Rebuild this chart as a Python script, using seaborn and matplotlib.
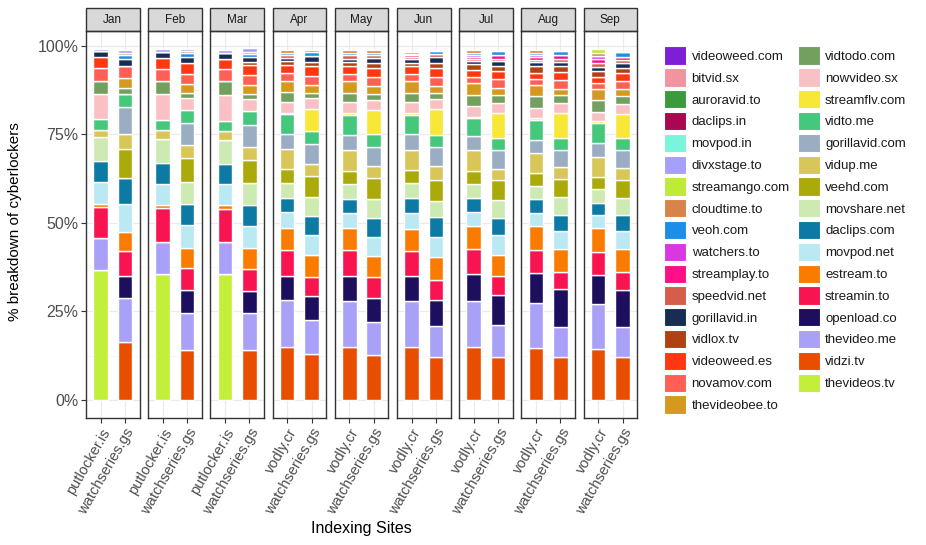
import numpy as np
import pandas as pd
import seaborn as sns
import matplotlib.pyplot as plt
from matplotlib.patches import Patch, Rectangle

plt.rcParams['font.family'] = ['Liberation Sans', 'DejaVu Sans']

months = ['Jan', 'Feb', 'Mar', 'Apr', 'May', 'Jun', 'Jul', 'Aug', 'Sep']
first_site = ['putlocker.is'] * 3 + ['vodly.cr'] * 6
second_site = 'watchseries.gs'

# legend order (top of the stack first)
lockers = ['videoweed.com', 'bitvid.sx', 'auroravid.to', 'daclips.in', 'movpod.in',
           'divxstage.to', 'streamango.com', 'cloudtime.to', 'veoh.com', 'watchers.to',
           'streamplay.to', 'speedvid.net', 'gorillavid.in', 'vidlox.tv', 'videoweed.es',
           'novamov.com', 'thevideobee.to', 'vidtodo.com', 'nowvideo.sx', 'streamflv.com',
           'vidto.me', 'gorillavid.com', 'vidup.me', 'veehd.com', 'movshare.net',
           'daclips.com', 'movpod.net', 'estream.to', 'streamin.to', 'openload.co',
           'thevideo.me', 'vidzi.tv', 'thevideos.tv']
colors = ['#7E1FD8', '#F0949F', '#3B9B3B', '#A8084F', '#78F5DA',
          '#A6A0F8', '#BDEB38', '#D8834A', '#1A8EE8', '#D838E0',
          '#FF0F87', '#D65C4B', '#172D54', '#B0420F', '#FF3811',
          '#FF5F55', '#D4991E', '#74A05F', '#F9C1C4', '#F7E736',
          '#45C77C', '#9BADC2', '#D9C658', '#ABAA0B', '#CCEAB2',
          '#0C7AA3', '#BAE8F3', '#F97C00', '#F71450', '#1E0E5E',
          '#A9A0F8', '#E94E00', '#C2EF3A']
stack = lockers[::-1]  # bottom to top

# shares in %, listed bottom to top (same order as `stack`)
jan_putlocker = [36.7, 0, 8.9, 0, 8.7, 1.0, 6.1, 6.1, 6.7, 0, 2.1,
                 0, 2.9, 0, 7.2, 3.5, 0, 3.9, 2.9, 0, 1.7, 0,
                 0, 0, 0, 0, 0, 0.7, 0, 0, 0, 0, 0]
jan_watchseries = [0, 16.4, 12.3, 6.2, 7.0, 5.6, 7.7, 7.4, 0, 8.2, 4.2,
                   7.6, 3.8, 0, 0, 1.5, 2.8, 3.6, 0, 0, 1.9, 0,
                   0, 0, 1.2, 0.6, 0, 0.7, 0, 0, 0, 0, 0]
feb_putlocker = [35.4, 0, 9.1, 0, 9.6, 1.0, 5.7, 6.0, 6.8, 0, 2.5,
                 0, 2.8, 0, 7.5, 3.7, 0, 3.4, 3.0, 0, 1.7, 0,
                 0, 0, 0, 0, 0, 0.7, 0, 0, 0, 0, 0]
feb_watchseries = [0, 14.1, 10.5, 6.4, 6.1, 5.8, 6.4, 6.0, 6.3, 6.8, 3.6,
                   6.2, 3.7, 0, 3.4, 1.4, 2.4, 2.9, 3.0, 0, 1.8, 0,
                   0, 0, 1.1, 0.5, 0, 0.7, 0, 0, 0, 0, 0]
mar_putlocker = [35.4, 0, 9.1, 0, 9.4, 1.2, 5.7, 5.9, 6.7, 0, 2.6,
                 0, 2.8, 0, 7.2, 3.9, 0, 3.4, 3.0, 0, 1.7, 0,
                 0, 0, 0, 0, 0, 0.7, 0, 0, 0, 0, 0]
mar_watchseries = [0, 14.1, 10.3, 6.4, 6.1, 6.0, 6.3, 5.8, 6.2, 6.5, 3.8,
                   6.1, 4.0, 0, 3.4, 1.4, 2.5, 2.8, 2.9, 0.7, 1.5, 0,
                   0, 0, 0.9, 0.6, 0, 0.9, 0, 0, 0, 0, 0]
apr_vodly = [0, 15.0, 13.2, 6.9, 7.3, 6.0, 4.5, 4.1, 4.2, 4.0, 5.6,
             4.3, 5.6, 0.4, 3.1, 2.6, 3.3, 2.1, 2.2, 1.1, 1.0, 0.9,
             0, 0, 0.6, 0.6, 0, 0, 0, 0, 0, 0, 0]
apr_watchseries = [0, 13.0, 9.6, 6.6, 5.6, 6.1, 5.7, 5.3, 5.5, 5.8, 3.5,
                   5.6, 3.6, 6.3, 3.0, 1.4, 2.3, 2.5, 2.7, 1.2, 1.7, 0,
                   0, 0, 1.2, 0.6, 0, 0, 0, 0, 0, 0, 0]
may_vodly = [0, 15.0, 13.0, 6.9, 7.4, 6.1, 4.3, 4.0, 4.2, 3.8, 5.7,
             4.4, 5.6, 0.5, 3.1, 2.6, 3.4, 2.0, 2.1, 1.2, 1.0, 0.9,
             0, 0, 0.7, 0.7, 0, 0, 0, 0, 0, 0, 0]
may_watchseries = [0, 12.7, 9.4, 6.6, 5.9, 6.0, 5.5, 5.3, 5.3, 5.8, 3.5,
                   5.4, 3.7, 6.8, 2.8, 1.6, 2.4, 2.5, 2.5, 1.3, 1.5, 0.7,
                   0, 0, 0.8, 0.6, 0, 0, 0, 0, 0, 0, 0]
jun_vodly = [0, 15.0, 13.0, 6.9, 7.1, 6.2, 4.6, 4.1, 4.2, 3.9, 5.6,
             4.3, 5.6, 0.4, 3.1, 2.6, 3.3, 2.0, 2.2, 1.1, 1.0, 0.6,
             0.4, 0, 0.4, 0.6, 0, 0, 0, 0, 0, 0, 0]
jun_watchseries = [0, 12.1, 8.9, 7.3, 5.5, 6.6, 5.7, 5.4, 4.7, 5.9, 3.9,
                   5.3, 3.5, 7.2, 2.8, 1.8, 2.1, 2.3, 2.6, 1.5, 1.6, 0.8,
                   0, 0, 1.0, 0, 0, 0, 0, 0, 0, 0, 0]
jul_vodly = [0, 14.8, 13.1, 7.6, 7.1, 6.5, 4.0, 4.0, 3.9, 3.6, 5.8,
             4.0, 5.1, 0.4, 2.9, 3.3, 3.2, 1.9, 1.9, 1.6, 1.0, 0.5,
             0.5, 0.7, 0.6, 0.6, 0, 0, 0, 0, 0, 0, 0]
jul_watchseries = [0, 12.1, 9.1, 8.4, 5.3, 6.1, 5.5, 4.9, 5.0, 5.6, 3.3,
                   5.1, 3.5, 7.2, 2.8, 2.2, 2.0, 2.5, 2.3, 1.4, 1.2, 0.6,
                   1.1, 0, 1.3, 0, 0, 0, 0, 0, 0, 0, 0]
aug_vodly = [0, 14.6, 12.8, 8.4, 6.4, 6.8, 3.8, 3.8, 3.7, 3.7, 5.6,
             3.8, 5.5, 0.6, 3.0, 3.2, 3.2, 1.6, 1.7, 1.9, 1.2, 0.7,
             0.8, 0.6, 0.4, 1.0, 0, 0, 0, 0, 0, 0, 0]
aug_watchseries = [0, 12.0, 8.5, 10.8, 4.9, 6.4, 5.1, 4.6, 4.9, 5.0, 3.4,
                   5.0, 3.4, 6.9, 2.8, 2.4, 1.7, 2.5, 2.3, 1.5, 1.2, 0.8,
                   1.1, 0, 1.2, 0, 0, 0, 0, 0, 0, 0, 0]
sep_vodly = [0, 14.4, 12.6, 8.3, 6.3, 6.9, 3.7, 3.5, 3.8, 3.4, 5.7,
             3.9, 5.5, 0.6, 2.7, 3.2, 3.2, 1.8, 1.7, 1.7, 1.1, 1.0,
             1.2, 0.9, 0, 0.7, 1.1, 0, 0, 0, 0, 0, 0]
sep_watchseries = [0, 12.0, 8.5, 10.6, 4.9, 6.5, 5.1, 4.6, 4.9, 5.0, 3.4,
                   5.0, 3.4, 6.9, 2.8, 2.3, 1.7, 2.4, 2.2, 1.6, 1.2, 0.8,
                   1.1, 0, 1.3, 0, 0, 0, 0, 0, 0, 0, 0]

bars = [(jan_putlocker, jan_watchseries), (feb_putlocker, feb_watchseries),
        (mar_putlocker, mar_watchseries), (apr_vodly, apr_watchseries),
        (may_vodly, may_watchseries), (jun_vodly, jun_watchseries),
        (jul_vodly, jul_watchseries), (aug_vodly, aug_watchseries),
        (sep_vodly, sep_watchseries)]

rows = []
for month, site1, (v1, v2) in zip(months, first_site, bars):
    for site, vals in [(site1, v1), (second_site, v2)]:
        for locker, v in zip(stack, vals):
            if v > 0:
                rows.append({'month': month, 'site': site, 'locker': locker, 'share': v})
df = pd.DataFrame(rows)
palette = dict(zip(lockers, colors))

W, H = 926, 545
fig = plt.figure(figsize=(W / 100, H / 100), dpi=100)

left, pw, pitch = 86, 53.5, 62.2
top, bottom = 31, 418
strip_h = 23
ph = bottom - top
axes = []
for i, month in enumerate(months):
    ax = fig.add_axes([(left + i * pitch) / W, 1 - bottom / H, pw / W, ph / H])
    axes.append(ax)
    sub = df[df['month'] == month]
    sns.histplot(data=sub, x='site', weights='share', hue='locker', hue_order=lockers,
                 multiple='stack', discrete=True, shrink=0.6, palette=palette,
                 edgecolor='white', linewidth=1.0, alpha=1, legend=False, ax=ax)
    ax.set_xlim(-0.6, 1.6)
    ax.set_ylim(-5.1, 104.1)
    ax.set_xticks([0, 1])
    ax.set_xticklabels([first_site[i], second_site], rotation=60, ha='right',
                       rotation_mode='anchor', fontsize=10.5, color='#4D4D4D')
    ax.set_yticks([0, 25, 50, 75, 100])
    ax.set_yticks([12.5, 37.5, 62.5, 87.5], minor=True)
    ax.set_yticklabels(['0%', '25%', '50%', '75%', '100%'])
    ax.grid(which='major', color='#EBEBEB', linewidth=0.9)
    ax.grid(which='minor', axis='y', color='#F4F4F4', linewidth=0.5)
    ax.set_axisbelow(True)
    ax.set_xlabel('')
    ax.set_ylabel('')
    for sp in ax.spines.values():
        sp.set_color('#333333')
        sp.set_linewidth(1.0)
    ax.tick_params(axis='x', length=3.5, color='#333333', pad=2)
    ax.tick_params(axis='y', which='minor', length=0)
    if i == 0:
        ax.tick_params(axis='y', length=3.5, color='#333333', labelsize=11.5,
                       labelcolor='#4D4D4D', pad=2)
    else:
        ax.tick_params(axis='y', length=0, labelleft=False)
    ax.add_patch(Rectangle((0, 1), 1, strip_h / ph, transform=ax.transAxes,
                           facecolor='#D9D9D9', edgecolor='#333333', linewidth=1.0,
                           clip_on=False))
    ax.text(0.5, 1 + strip_h / ph / 2, month, transform=ax.transAxes, ha='center',
            va='center', fontsize=8.5, color='#1A1A1A')

fig.text(15 / W, 1 - 222 / H, '% breakdown of cyberlockers', rotation=90,
         ha='center', va='center', fontsize=11)
fig.text((left + (pitch * 8 + pw) / 2) / W, 1 - 528 / H, 'Indexing Sites',
         ha='center', va='center', fontsize=11.5)

handles = [Patch(facecolor=c, edgecolor='white', linewidth=0.8) for c in colors]
fs = 9.5
for cols, x in [(slice(0, 17), 664), (slice(17, 33), 797.5)]:
    leg = fig.legend(handles[cols], lockers[cols], loc='upper left',
                     bbox_to_anchor=(x / W, 1 - 46.5 / H), frameon=False, fontsize=fs,
                     handlelength=1.69, handleheight=1.75, labelspacing=0.27,
                     handletextpad=0.4, borderpad=0, borderaxespad=0)
    for t in leg.get_texts():
        t.set_color('#1A1A1A')

fig.savefig('out.png', dpi=100)
